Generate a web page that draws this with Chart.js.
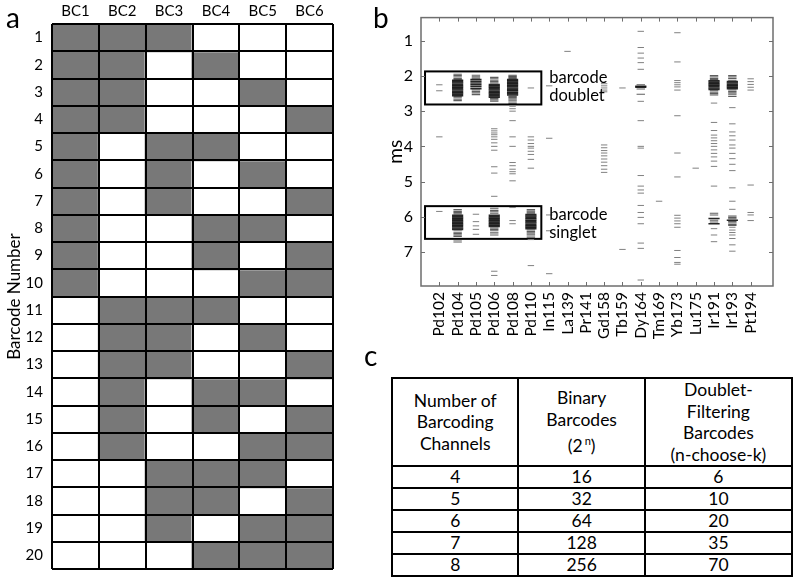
<!DOCTYPE html>
<html>
<head>
<meta charset="utf-8">
<script src="https://cdn.jsdelivr.net/npm/chart.js@4.4.1/dist/chart.umd.min.js"></script>
<style>
  html, body { margin: 0; padding: 0; background: #fff; }
  #wrap { position: relative; width: 800px; height: 587px; overflow: hidden; font-family: Lato, 'Open Sans', sans-serif; color: #000; }
  canvas { position: absolute; }
  .plabel { position: absolute; font-family: Lato, sans-serif; font-size: 28px; line-height: 28px; }
  #tbl { position: absolute; left: 391px; top: 377px; border-collapse: collapse; font-family: Lato, sans-serif; font-size: 17.5px; }
  #tbl td { border: 2px solid #000; text-align: center; padding: 0; line-height: 21.5px; }
  #tbl tr.hd td { height: 86px; }
  #tbl tr.rw td { height: 20px; line-height: 20px; }
  #tbl sup { font-size: 11px; vertical-align: 7px; margin-left: 2px; }
</style>
</head>
<body>
<div id="wrap">
  <canvas id="ca" width="340" height="587" style="left:0;top:0"></canvas>
  <canvas id="cb" width="460" height="360" style="left:340px;top:0"></canvas>
  <div class="plabel" style="left:6px;top:3px">a</div>
  <div class="plabel" style="left:373px;top:3px">b</div>
  <div class="plabel" style="left:364px;top:341px">c</div>
  <table id="tbl"></table>
</div>
<script>
// ---------- Panel a data ----------
const barcodeChannels = ['BC1', 'BC2', 'BC3', 'BC4', 'BC5', 'BC6'];
const barcodeNumbers = ['1','2','3','4','5','6','7','8','9','10','11','12','13','14','15','16','17','18','19','20'];
const barcodePatterns = [
  '111000','110100','110010','110001','101100','101010','101001','100110','100101','100011',
  '011100','011010','011001','010110','010101','010011','001110','001101','001011','000111'
];

// ---------- Panel b data ----------
const massChannels = ['Pd102','Pd104','Pd105','Pd106','Pd108','Pd110','In115','La139','Pr141','Gd158','Tb159','Dy164','Tm169','Yb173','Lu175','Ir191','Ir193','Pt194'];
const msTicks = [1, 2, 3, 4, 5, 6, 7];
const heavyEvents = {
  Pd104: [2.12,2.16,2.20,2.24,2.28,2.32,2.36,2.40,2.44,2.48,2.52,2.56,
          5.96,6.00,6.04,6.08,6.12,6.16,6.20,6.24,6.28,6.32,6.36],
  Pd105: [2.10,2.15,2.20,2.25,2.30,2.36],
  Pd106: [2.24,2.28,2.32,2.36,2.40,2.44,2.48,2.52,2.56,2.60,
          5.96,6.00,6.04,6.08,6.12,6.16,6.20,6.24,6.28],
  Pd108: [2.10,2.14,2.18,2.22,2.26,2.30,2.34,2.38,2.42,2.46,2.50,2.54],
  Pd110: [5.94,5.98,6.02,6.06,6.10,6.14,6.18,6.22,6.26,6.30,6.34],
  Dy164: [2.29,2.32],
  Ir191: [2.14,2.18,2.22,2.26,2.30,2.34,2.38,6.05,6.20],
  Ir193: [2.16,2.20,2.24,2.28,2.32,2.36,6.10]
};
const mediumEvents = {
  Pd104: [1.95,1.99,2.03,2.07,2.10,2.58,2.62,2.66,2.70,5.80,5.85,5.88,5.92,6.38,6.44,6.48,6.52,6.56,6.66,6.72],
  Pd105: [1.98,2.02,2.06,2.40,2.44,2.48,2.53],
  Pd106: [2.04,2.08,2.12,2.16,2.20,2.64,2.68,2.72,5.76,5.82,5.86,5.90,6.32,6.36,6.40,6.46,6.52],
  Pd108: [1.98,2.01,2.04,2.07,2.58,2.61,2.65,2.69,2.74,2.78],
  Pd110: [5.80,5.84,5.87,5.90,6.38,6.42,6.46,6.50,6.55,6.60],
  Dy164: [2.25,2.37,2.52],
  Ir191: [1.99,2.03,2.07,2.10,2.42,2.46,2.50,2.54,5.90,5.95,6.10,6.15],
  Ir193: [1.99,2.03,2.07,2.12,2.40,2.44,2.48,2.52,2.58,5.98,6.02,6.06,6.14,6.18,6.22,6.25]
};
const lightEvents = {
  Pd102: [2.25,2.42,3.73,5.85],
  Pd105: [5.93,6.14,6.26,6.36,6.50],
  Pd106: [3.50,3.56,3.62,3.67,3.73,3.80,3.90,4.00,4.11,4.58,4.76,5.42,7.55,7.67],
  Pd108: [2.86,2.93,3.00,3.27,3.73,4.00,4.46,4.55,4.65,4.72,4.78,4.98,5.74,6.11,6.20],
  Pd110: [2.34,3.73,3.82,3.92,4.00,4.05,4.14,4.23,4.37,4.62,6.65,7.39],
  In115: [2.28,3.77,5.95,6.40,7.62],
  La139: [1.30],
  Gd158: [2.22,2.28,2.34,2.40,2.45,3.96,4.04,4.12,4.19,4.27,4.36,4.45,4.55,4.65,4.74],
  Tb159: [2.34,6.93],
  Dy164: [0.73,1.19,1.35,1.49,1.62,1.81,2.72,3.27,4.00,4.05,4.83,5.13,5.24,5.33,5.68,5.88,6.02,6.20,6.75,6.90,7.80],
  Tm169: [5.56],
  Yb173: [0.77,1.60,2.13,2.19,2.25,2.31,2.40,3.13,4.19,4.87,5.96,6.04,6.12,6.20,6.30,6.96,7.16,7.30,7.35],
  Lu175: [4.62],
  Ir191: [2.77,3.32,3.55,3.68,3.76,3.84,3.92,4.00,4.10,4.20,4.30,4.42,4.57,5.13,6.34,6.52,6.71],
  Ir193: [2.90,3.36,3.59,3.70,3.82,3.96,4.05,4.20,4.35,4.51,4.69,5.18,5.56,5.79,6.30,6.38,6.45,6.52,6.62,6.80,6.98],
  Pt194: [2.08,2.16,2.24,2.32,2.40,5.10,5.88,5.95,6.11]
};
// annotation boxes: [xFrom, xTo, yFrom, yTo] in axis units, with two text lines
const doubletBox = [0.22, 6.57, 1.87, 2.81];
const singletBox = [0.22, 6.57, 5.70, 6.63];
const doubletText = ['barcode', 'doublet'];
const singletText = ['barcode', 'singlet'];

// ---------- Panel c data ----------
const nChannels = [4, 5, 6, 7, 8];
const binaryBarcodes = [16, 32, 64, 128, 256];
const filteringBarcodes = [6, 10, 20, 35, 70];

const GREY = '#787878';
const FONT = 'Lato';

// ---------- Panel a chart ----------
const frameA = {
  id: 'frameA',
  afterDatasetsDraw(chart) {
    const { ctx, chartArea: a } = chart;
    const y = chart.scales.y;
    ctx.save();
    ctx.strokeStyle = '#000';
    ctx.lineWidth = 2;
    ctx.beginPath();
    for (let k = 0; k <= barcodeNumbers.length; k++) {
      const py = Math.round(y.getPixelForValue(k));
      ctx.moveTo(a.left, py); ctx.lineTo(a.right, py);
    }
    const cw = (a.right - a.left) / barcodeChannels.length;
    for (let i = 0; i <= barcodeChannels.length; i++) {
      const px = Math.round(a.left + i * cw);
      ctx.moveTo(px, a.top); ctx.lineTo(px, a.bottom);
    }
    ctx.stroke();
    ctx.restore();
  }
};
new Chart(document.getElementById('ca'), {
  type: 'bar',
  data: {
    labels: barcodeChannels,
    datasets: barcodePatterns.map((p, r) => ({
      label: barcodeNumbers[r],
      data: barcodeChannels.map(() => 1),
      backgroundColor: p.split('').map(c => c === '1' ? GREY : '#ffffff'),
      borderWidth: 0,
      categoryPercentage: 1,
      barPercentage: 1,
      inflateAmount: 1,
      stack: 's'
    }))
  },
  options: {
    responsive: false,
    animation: false,
    layout: { padding: { left: 0, top: 0, right: 7, bottom: 8 } },
    plugins: { legend: { display: false }, tooltip: { enabled: false } },
    scales: {
      x: {
        position: 'top', stacked: true,
        grid: { display: false, drawTicks: false }, border: { display: false },
        ticks: { color: '#000', padding: 4, font: { family: FONT, size: 15 } },
        afterFit(s) { s.height = 24; }
      },
      y: {
        stacked: true, reverse: true, min: 0, max: 20,
        grid: { display: false, drawTicks: false }, border: { display: false },
        afterBuildTicks(s) { s.ticks = barcodeNumbers.map((l, i) => ({ value: i + 0.5 })); },
        ticks: { autoSkip: false, color: '#000', padding: 9, font: { family: FONT, size: 15 },
                 callback: (v, i) => barcodeNumbers[i] },
        title: { display: true, text: 'Barcode Number', color: '#000', font: { family: FONT, size: 17 }, padding: { top: 4, bottom: 0 } },
        afterFit(s) { s.width = 52; }
      }
    }
  },
  plugins: [frameA]
});

// ---------- Panel b chart ----------
function toPoints(obj) {
  const pts = [];
  Object.keys(obj).forEach(k => {
    const xi = massChannels.indexOf(k) + 1;
    obj[k].forEach(v => pts.push({ x: xi, y: v }));
  });
  return pts;
}
const frameB = {
  id: 'frameB',
  beforeDatasetsDraw(chart) {
    const { ctx, scales: { x, y } } = chart;
    ctx.save();
    ctx.strokeStyle = '#000';
    ctx.lineWidth = 2;
    [doubletBox, singletBox].forEach(b => {
      const x0 = x.getPixelForValue(b[0]), x1 = x.getPixelForValue(b[1]);
      const y0 = y.getPixelForValue(b[2]), y1 = y.getPixelForValue(b[3]);
      ctx.strokeRect(x0, y0, x1 - x0, y1 - y0);
    });
    ctx.restore();
  },
  afterDatasetsDraw(chart) {
    const { ctx, chartArea: a, scales: { x, y } } = chart;
    ctx.save();
    ctx.strokeStyle = '#6e6e6e';
    ctx.lineWidth = 1.5;
    ctx.strokeRect(a.left, a.top, a.right - a.left, a.bottom - a.top);
    ctx.lineWidth = 1;
    ctx.beginPath();
    massChannels.forEach((c, i) => {
      const px = Math.round(x.getPixelForValue(i + 1)) + 0.5;
      ctx.moveTo(px, a.bottom); ctx.lineTo(px, a.bottom - 4);
      ctx.moveTo(px, a.top); ctx.lineTo(px, a.top + 4);
    });
    msTicks.forEach(v => {
      const py = Math.round(y.getPixelForValue(v)) + 0.5;
      ctx.moveTo(a.left, py); ctx.lineTo(a.left + 4, py);
      ctx.moveTo(a.right, py); ctx.lineTo(a.right - 4, py);
    });
    ctx.stroke();
    ctx.fillStyle = '#000';
    ctx.font = '16.5px ' + FONT;
    ctx.textBaseline = 'middle';
    ctx.textAlign = 'left';
    const tx = x.getPixelForValue(7.0);
    ctx.fillText(doubletText[0], tx, y.getPixelForValue(2.05));
    ctx.fillText(doubletText[1], tx, y.getPixelForValue(2.57));
    ctx.fillText(singletText[0], tx, y.getPixelForValue(5.93));
    ctx.fillText(singletText[1], tx, y.getPixelForValue(6.45));
    ctx.restore();
  }
};
const dashSet = (data, color, r, w) => ({
  data, pointStyle: 'line', pointRadius: r, pointBorderWidth: w,
  pointBorderColor: color, pointBackgroundColor: color, showLine: false
});
new Chart(document.getElementById('cb'), {
  type: 'scatter',
  data: {
    datasets: [
      dashSet(toPoints(lightEvents), '#808080', 3.2, 1),
      dashSet(toPoints(mediumEvents), 'rgba(40,40,40,0.75)', 4.2, 1.1),
      dashSet(toPoints(heavyEvents), 'rgba(0,0,0,0.85)', 5.6, 1.6)
    ]
  },
  options: {
    responsive: false,
    animation: false,
    layout: { padding: { left: 0, top: 8, right: 27, bottom: 0 } },
    plugins: { legend: { display: false }, tooltip: { enabled: false } },
    scales: {
      x: {
        type: 'linear', min: 0, max: 19.22,
        grid: { display: false, drawTicks: false }, border: { display: false },
        afterBuildTicks(s) { s.ticks = massChannels.map((c, i) => ({ value: i + 1 })); },
        ticks: { autoSkip: false, minRotation: 90, maxRotation: 90, padding: 6, color: '#000',
                 font: { family: FONT, size: 15.5 }, callback: (v) => massChannels[Math.round(v) - 1] },
        afterFit(s) { s.height = 74; }
      },
      y: {
        type: 'linear', reverse: true, min: 0.34, max: 7.97,
        grid: { display: false, drawTicks: false }, border: { display: false },
        afterBuildTicks(s) { s.ticks = msTicks.map(v => ({ value: v })); },
        ticks: { autoSkip: false, padding: 8, color: '#000', font: { family: FONT, size: 16 }, callback: (v) => String(v) },
        title: { display: true, text: 'ms', color: '#000', font: { family: FONT, size: 19 }, padding: { top: 44, bottom: 0 } },
        afterFit(s) { s.width = 81; }
      }
    }
  },
  plugins: [frameB]
});

// ---------- Panel c table ----------
(function () {
  const t = document.getElementById('tbl');
  const cols = [127, 127, 148];
  let html = '<colgroup>' + cols.map(w => '<col style="width:' + w + 'px">').join('') + '</colgroup>';
  html += '<tr class="hd"><td>Number of<br>Barcoding<br>Channels</td>' +
          '<td>Binary<br>Barcodes<br>(2<sup>n</sup>)</td>' +
          '<td>Doublet-<br>Filtering<br>Barcodes<br>(n-choose-k)</td></tr>';
  nChannels.forEach((n, i) => {
    html += '<tr class="rw"><td>' + n + '</td><td>' + binaryBarcodes[i] + '</td><td>' + filteringBarcodes[i] + '</td></tr>';
  });
  t.innerHTML = html;
  t.style.width = cols.reduce((a, b) => a + b, 0) + 'px';
})();
</script>
</body>
</html>
